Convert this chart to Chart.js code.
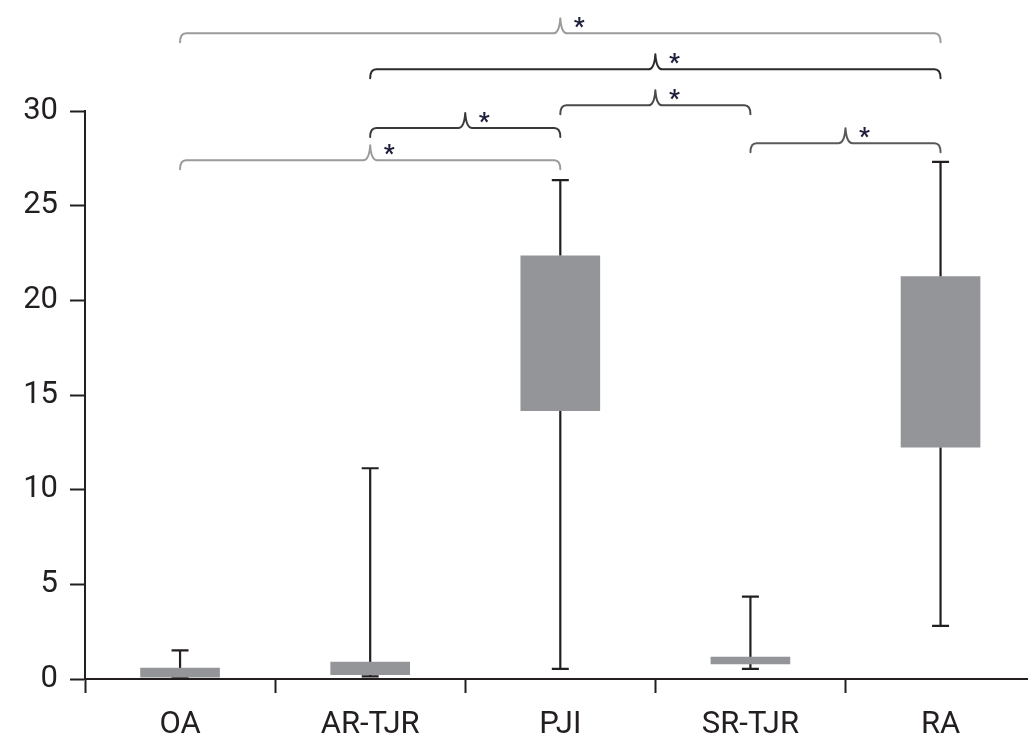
<!DOCTYPE html>
<html>
<head>
<meta charset="utf-8">
<script src="https://cdn.jsdelivr.net/npm/chart.js@4.4.1/dist/chart.umd.min.js"></script>
<style>
  html, body { margin: 0; padding: 0; background: #ffffff; overflow: hidden; }
  canvas { display: block; }
</style>
</head>
<body>
<canvas id="c" width="1028" height="739"></canvas>
<script>
// ---- data ----
const categories = ['OA', 'AR-TJR', 'PJI', 'SR-TJR', 'RA'];
const whiskerMin = [0.05, 0.14, 0.54, 0.54, 2.81];
const q1 = [0.10, 0.23, 14.17, 0.79, 12.24];
const q3 = [0.58, 0.90, 22.35, 1.16, 21.25];
const whiskerMax = [1.51, 11.13, 26.35, 4.35, 27.31];
const yTicks = [0, 5, 10, 15, 20, 25, 30];

// significance brackets (category index from/to, height in y units)
const bracketFrom = [0, 1, 2, 1, 3, 0];
const bracketTo = [4, 4, 3, 2, 4, 2];
const bracketLevel = [34.1, 32.2, 30.3, 29.1, 28.3, 27.4];
const bracketLabel = ['*', '*', '*', '*', '*', '*'];
const bracketColor = ['#9b9b9b', '#2b2b2b', '#4a4a4a', '#3a3a3a', '#5a5a5a', '#9b9b9b'];

// ---- styles ----
const INK = '#231f20';
const BOX = '#939598';
const FONT = 'Roboto, "Liberation Sans", Arial, sans-serif';

const boxPlugin = {
  id: 'boxWhiskers',
  beforeDatasetsDraw(chart) {
    const x = chart.scales.x, y = chart.scales.y, ctx = chart.ctx;
    ctx.save();
    ctx.strokeStyle = INK;
    ctx.lineWidth = 2.2;
    categories.forEach((c, i) => {
      const px = x.getPixelForValue(i);
      const yMax = y.getPixelForValue(whiskerMax[i]);
      const yQ3 = y.getPixelForValue(q3[i]);
      const yQ1 = y.getPixelForValue(q1[i]);
      const yMin = y.getPixelForValue(whiskerMin[i]);
      const cap = 8.5;
      ctx.beginPath();
      ctx.moveTo(px, yQ3); ctx.lineTo(px, yMax);
      ctx.moveTo(px - cap, yMax); ctx.lineTo(px + cap, yMax);
      ctx.moveTo(px, yQ1); ctx.lineTo(px, yMin);
      ctx.moveTo(px - cap, yMin); ctx.lineTo(px + cap, yMin);
      ctx.stroke();
    });
    ctx.restore();
  },
  afterDraw(chart) {
    const x = chart.scales.x, y = chart.scales.y, ctx = chart.ctx;
    ctx.save();
    ctx.lineWidth = 2;
    ctx.lineJoin = 'round';
    ctx.lineCap = 'round';
    bracketFrom.forEach((f, k) => {
      const xa = x.getPixelForValue(f);
      const xb = x.getPixelForValue(bracketTo[k]);
      const xm = (xa + xb) / 2;
      const yl = y.getPixelForValue(bracketLevel[k]);
      const hook = 9, r = 6, tip = 15;
      ctx.strokeStyle = bracketColor[k];
      ctx.beginPath();
      ctx.moveTo(xa, yl + hook);
      ctx.quadraticCurveTo(xa, yl, xa + r, yl);
      ctx.lineTo(xm - 7, yl);
      ctx.quadraticCurveTo(xm - 1, yl, xm, yl - tip);
      ctx.quadraticCurveTo(xm + 1, yl, xm + 7, yl);
      ctx.lineTo(xb - r, yl);
      ctx.quadraticCurveTo(xb, yl, xb, yl + hook);
      ctx.stroke();
      ctx.fillStyle = '#1e1e3c';
      ctx.font = 'bold 24px ' + FONT;
      ctx.textAlign = 'center';
      ctx.textBaseline = 'alphabetic';
      ctx.fillText(bracketLabel[k], xm + 19, yl + 1);
    });
    ctx.restore();
  }
};

new Chart(document.getElementById('c'), {
  type: 'bar',
  data: {
    datasets: [{
      data: categories.map((c, i) => ({ x: i, y: [q1[i], q3[i]] })),
      backgroundColor: BOX,
      borderWidth: 0,
      barThickness: 79
    }]
  },
  options: {
    responsive: false,
    animation: false,
    devicePixelRatio: 1,
    layout: { padding: { top: 111, left: 0, right: 0, bottom: 0 } },
    plugins: { legend: { display: false }, tooltip: { enabled: false } },
    scales: {
      x: {
        type: 'linear',
        min: -0.5,
        max: 4.46,
        offset: false,
        afterBuildTicks(s) {
          const t = [];
          for (let v = -0.5; v <= 4.01; v += 0.5) t.push({ value: v });
          s.ticks = t;
        },
        afterFit(s) { s.height = 60; },
        ticks: {
          autoSkip: false,
          maxRotation: 0,
          padding: 14,
          color: INK,
          font: { family: FONT, size: 31 },
          callback: (v) => (Number.isInteger(v) ? categories[v] : '')
        },
        grid: {
          offset: false,
          drawOnChartArea: false,
          drawTicks: true,
          tickLength: 14,
          tickWidth: 2,
          tickColor: (ctx) => (ctx.tick && Number.isInteger(ctx.tick.value) ? 'rgba(0,0,0,0)' : INK)
        },
        border: { display: true, color: INK, width: 2 }
      },
      y: {
        min: 0,
        max: 30,
        afterBuildTicks(s) { s.ticks = yTicks.map(v => ({ value: v })); },
        afterFit(s) { s.width = 85; },
        ticks: {
          padding: 12,
          color: INK,
          font: { family: FONT, size: 31 }
        },
        grid: {
          drawOnChartArea: false,
          drawTicks: true,
          tickLength: 15,
          tickWidth: 2,
          tickColor: INK
        },
        border: { display: true, color: INK, width: 2 }
      }
    }
  },
  plugins: [boxPlugin]
});
</script>
</body>
</html>
